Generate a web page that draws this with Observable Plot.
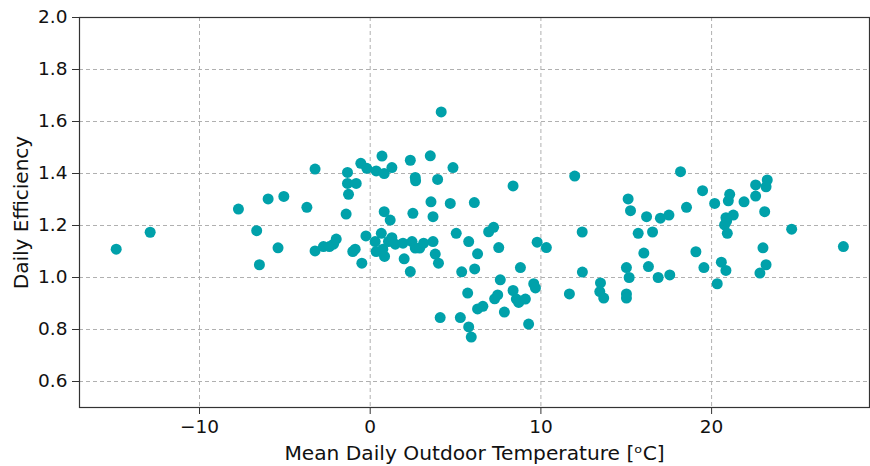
<!DOCTYPE html>
<html>
<head>
<meta charset="utf-8">
<script src="https://cdn.jsdelivr.net/npm/d3@7"></script>
<script src="https://cdn.jsdelivr.net/npm/@observablehq/plot@0.6"></script>
<style>
  html, body { margin: 0; padding: 0; background: #fff; }
  #chart { width: 870px; height: 466px; }
</style>
</head>
<body>
<div id="chart"></div>
<script>
const temperature = [
  -14.88, -12.89, -7.72, -6.65, -6.49, -5.98, -5.4, -5.06, -3.71, -3.23,
  -3.23, -2.74, -2.39, -2.15, -1.99, -1.41, -1.33, -1.33, -1.27, -1.02,
  -0.88, -0.82, -0.55, -0.49, -0.25, -0.2, 0.29, 0.35, 0.35, 0.65,
  0.69, 0.74, 0.82, 0.84, 0.82, 1.07, 1.17, 1.27, 1.27, 1.47,
  1.92, 1.99, 2.35, 2.35, 2.45, 2.5, 2.64, 2.64, 2.66, 2.9,
  3.13, 3.52, 3.56, 3.68, 3.68, 3.81, 3.95, 4.0, 4.1, 4.16,
  4.69, 4.85, 5.04, 5.28, 5.36, 5.71, 5.77, 5.77, 5.92, 6.1,
  6.12, 6.29, 6.29, 6.6, 6.94, 7.23, 7.29, 7.47, 7.53, 7.62,
  7.86, 8.37, 8.37, 8.56, 8.7, 8.8, 9.09, 9.28, 9.58, 9.68,
  9.78, 10.32, 11.67, 11.98, 12.42, 12.43, 13.45, 13.49, 13.68, 15.01,
  15.01, 15.01, 15.11, 15.17, 15.25, 15.7, 16.03, 16.19, 16.3, 16.54,
  16.87, 17.0, 17.5, 17.55, 18.18, 18.53, 19.08, 19.47, 19.55, 20.18,
  20.33, 20.57, 20.76, 20.84, 20.84, 20.88, 20.92, 20.98, 21.06, 21.27,
  21.9, 22.58, 22.58, 22.83, 23.01, 23.11, 23.19, 23.19, 23.26, 24.69,
  27.72
];
const efficiency = [
  1.109, 1.174, 1.263, 1.18, 1.049, 1.302, 1.114, 1.312, 1.27, 1.417,
  1.102, 1.119, 1.119, 1.128, 1.148, 1.244, 1.404, 1.362, 1.32, 1.10,
  1.109, 1.362, 1.439, 1.055, 1.16, 1.42, 1.138, 1.10, 1.41, 1.17,
  1.467, 1.109, 1.253, 1.081, 1.40, 1.138, 1.221, 1.423, 1.153, 1.128,
  1.132, 1.072, 1.451, 1.023, 1.138, 1.247, 1.113, 1.385, 1.372, 1.113,
  1.132, 1.468, 1.291, 1.234, 1.138, 1.09, 1.377, 1.055, 0.846, 1.637,
  1.285, 1.423, 1.17, 0.846, 1.022, 0.94, 0.81, 1.138, 0.771, 1.288,
  1.033, 1.091, 0.879, 0.889, 1.176, 1.193, 0.918, 0.933, 1.115, 0.991,
  0.867, 1.352, 0.95, 0.917, 0.904, 1.038, 0.917, 0.821, 0.976, 0.96,
  1.136, 1.115, 0.937, 1.39, 1.175, 1.021, 0.946, 0.979, 0.921, 1.038,
  0.937, 0.921, 1.302, 1.0, 1.257, 1.17, 1.094, 1.234, 1.042, 1.175,
  1.0, 1.228, 1.24, 1.01, 1.407, 1.27, 1.099, 1.334, 1.038, 1.285,
  0.976, 1.059, 1.202, 1.23, 1.027, 1.217, 1.17, 1.295, 1.32, 1.24,
  1.291, 1.356, 1.313, 1.017, 1.114, 1.253, 1.349, 1.049, 1.375, 1.186,
  1.119
];
const xTicks = [-10, 0, 10, 20];
const yTicks = [0.6, 0.8, 1.0, 1.2, 1.4, 1.6, 1.8, 2.0];
const xLabel = "Mean Daily Outdoor Temperature [ᵒC]";
const yLabel = "Daily Efficiency";

const data = temperature.map((t, i) => ({t, e: efficiency[i]}));

const font = "DejaVu Sans, sans-serif";
const chart = Plot.plot({
  width: 870,
  height: 466,
  marginLeft: 79,
  marginRight: 1,
  marginTop: 17,
  marginBottom: 59,
  style: {fontFamily: font, fontSize: "18px", color: "#111", background: "#fff"},
  x: {domain: [-17.03, 29.25]},
  y: {domain: [0.5, 2.0]},
  marks: [
    Plot.gridX(xTicks, {stroke: "#b0b0b0", strokeOpacity: 1, strokeDasharray: "4,3", strokeWidth: 1}),
    Plot.gridY(yTicks, {stroke: "#b0b0b0", strokeOpacity: 1, strokeDasharray: "4,3", strokeWidth: 1}),
    Plot.dot(data, {x: "t", y: "e", r: 5.5, fill: "#00a1aa", stroke: null}),
    Plot.axisX({ticks: xTicks, tickSize: 7, tickPadding: 5, tickFormat: d3.format("d"),
      label: null, fontSize: 18.5, stroke: "#333"}),
    Plot.axisX({ticks: [], tickSize: 0,
      label: xLabel, labelAnchor: "center", labelArrow: "none", labelOffset: 52, fontSize: 20.2}),
    Plot.axisY({ticks: yTicks, tickSize: 7, tickPadding: 5, tickFormat: d3.format(".1f"),
      label: null, fontSize: 18.5, stroke: "#333"}),
    Plot.axisY({ticks: [], tickSize: 0,
      label: yLabel, labelAnchor: "center", labelArrow: "none", labelOffset: 66, fontSize: 20}),
    Plot.frame({stroke: "#333", strokeWidth: 1.2})
  ]
});
document.getElementById("chart").appendChild(chart);
</script>
</body>
</html>
